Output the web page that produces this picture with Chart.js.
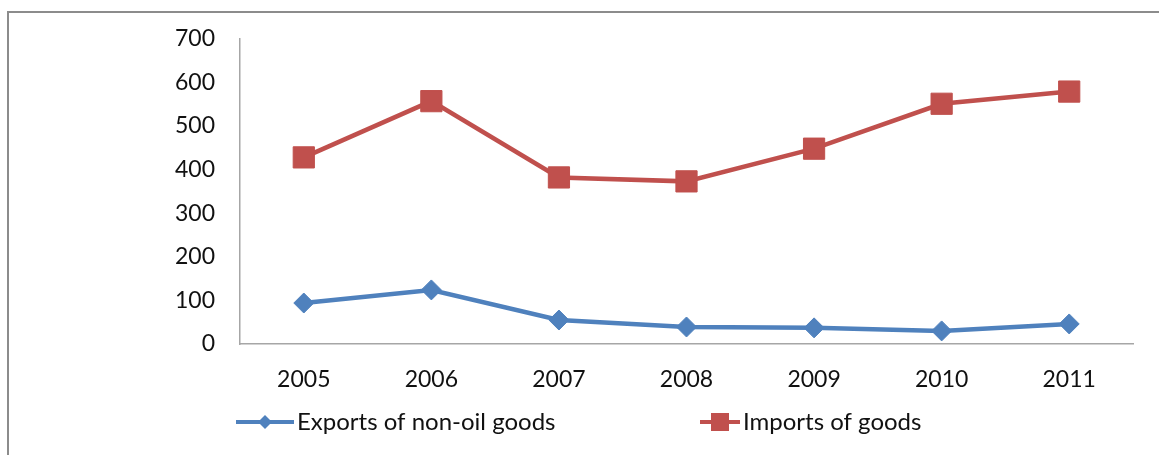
<!DOCTYPE html>
<html>
<head>
<meta charset="utf-8">
<script src="https://cdn.jsdelivr.net/npm/chart.js@4/dist/chart.umd.min.js"></script>
<style>
  html, body { margin: 0; padding: 0; background: #fff; }
  #wrap { width: 1159px; height: 455px; position: relative; }
</style>
</head>
<body>
<div id="wrap"><canvas id="tradeChart" width="1159" height="455"></canvas></div>
<script>
// Chart data
const years = ['2005', '2006', '2007', '2008', '2009', '2010', '2011'];
const exportsNonOil = [94, 124, 55, 39, 37, 30, 46];
const importsGoods = [428, 557, 382, 373, 448, 551, 579];
const yTicks = [0, 100, 200, 300, 400, 500, 600, 700];

const seriesNames = ['Exports of non-oil goods', 'Imports of goods'];
const blue = '#4F81BD';
const red = '#C0504D';
const fontFamily = 'Lato, "Open Sans", sans-serif';

// Outer frame (left + top border only, like the cropped source)
const framePlugin = {
  id: 'frame',
  beforeDraw(chart) {
    const ctx = chart.ctx;
    ctx.save();
    ctx.strokeStyle = '#8c8c8c';
    ctx.lineWidth = 2;
    ctx.beginPath();
    ctx.moveTo(8, chart.height);
    ctx.lineTo(8, 12);
    ctx.lineTo(chart.width, 12);
    ctx.stroke();
    ctx.restore();
  }
};

// Legend drawn by hand: line sample with marker in the middle
const lineLegendPlugin = {
  id: 'lineLegend',
  afterDraw(chart, args, opts) {
    const ctx = chart.ctx;
    ctx.save();
    opts.items.forEach((item, i) => {
      const ds = chart.data.datasets[i];
      const y = opts.y;
      ctx.strokeStyle = ds.borderColor;
      ctx.lineWidth = 4;
      ctx.beginPath();
      ctx.moveTo(item.x0, y);
      ctx.lineTo(item.x1, y);
      ctx.stroke();
      ctx.fillStyle = ds.backgroundColor;
      const cx = (item.x0 + item.x1) / 2;
      if (ds.pointStyle === 'rectRot') {
        ctx.beginPath();
        ctx.moveTo(cx - 7, y);
        ctx.lineTo(cx, y - 7);
        ctx.lineTo(cx + 7, y);
        ctx.lineTo(cx, y + 7);
        ctx.closePath();
        ctx.fill();
      } else {
        ctx.fillRect(cx - 9, y - 9, 18, 18);
      }
      ctx.fillStyle = '#111';
      ctx.font = '24px ' + fontFamily;
      ctx.textBaseline = 'middle';
      ctx.textAlign = 'left';
      ctx.fillText(ds.label, item.x1 + 3, y);
    });
    ctx.restore();
  }
};

const ctx = document.getElementById('tradeChart').getContext('2d');
new Chart(ctx, {
  type: 'line',
  data: {
    labels: years,
    datasets: [
      {
        label: seriesNames[0],
        data: exportsNonOil,
        borderColor: blue,
        backgroundColor: blue,
        borderWidth: 4.5,
        pointStyle: 'rectRot',
        pointRadius: 10,
        pointBorderWidth: 1,
        tension: 0
      },
      {
        label: seriesNames[1],
        data: importsGoods,
        borderColor: red,
        backgroundColor: red,
        borderWidth: 4.5,
        pointStyle: 'rect',
        pointRadius: 15,
        pointBorderWidth: 1,
        tension: 0
      }
    ]
  },
  options: {
    responsive: false,
    animation: false,
    layout: { padding: { top: 38, right: 26, left: 0, bottom: 0 } },
    plugins: {
      legend: { display: false },
      tooltip: { enabled: false },
      lineLegend: {
        y: 422,
        items: [
          { x0: 236, x1: 294 },
          { x0: 700, x1: 740 }
        ]
      }
    },
    scales: {
      x: {
        offset: true,
        grid: { display: false, drawTicks: false },
        border: { display: true, color: '#a6a6a6', width: 1.5 },
        ticks: {
          padding: 22,
          color: '#111',
          font: { family: fontFamily, size: 23 }
        },
        afterFit(scale) { scale.height = 111; }
      },
      y: {
        min: 0,
        max: 700,
        afterBuildTicks(scale) { scale.ticks = yTicks.map(v => ({ value: v })); },
        grid: { display: false, drawTicks: false },
        border: { display: true, color: '#a6a6a6', width: 1.5 },
        ticks: {
          padding: 25,
          color: '#111',
          font: { family: fontFamily, size: 23 }
        },
        afterFit(scale) { scale.width = 240; }
      }
    }
  },
  plugins: [framePlugin, lineLegendPlugin]
});
</script>
</body>
</html>
